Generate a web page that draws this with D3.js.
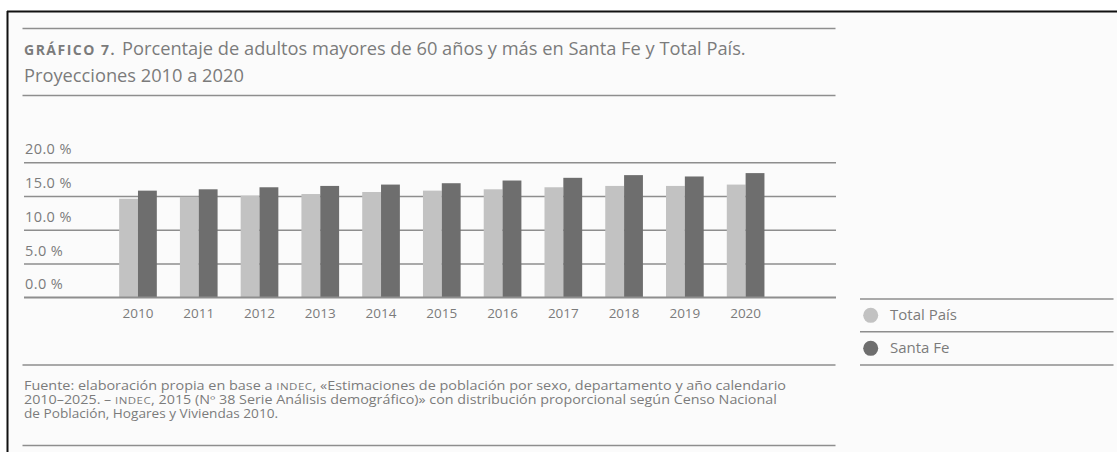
<!DOCTYPE html>
<html><head><meta charset="utf-8">
<script src="https://cdn.jsdelivr.net/npm/d3@7"></script>
<style>html,body{margin:0;padding:0;background:#fff;} svg{display:block;}</style>
</head><body><svg id="c" width="1117" height="452"></svg>
<script>
// ---- data ----
const years = ["2010","2011","2012","2013","2014","2015","2016","2017","2018","2019","2020"];
const totalPais = [14.6, 14.9, 15.05, 15.3, 15.6, 15.8, 16.0, 16.3, 16.5, 16.5, 16.7];
const santaFe   = [15.8, 16.0, 16.3, 16.5, 16.7, 16.9, 17.3, 17.7, 18.1, 17.9, 18.4];
const seriesNames = ["Total País", "Santa Fe"];
const yTicks = [0, 5, 10, 15, 20];
const titleBold = "GRÁFICO 7.";
const titleLine1 = "Porcentaje de adultos mayores de 60 años y más en Santa Fe y Total País.";
const titleLine2 = "Proyecciones 2010 a 2020";
const footLines = [
  [["Fuente: elaboración propia en base a ", false], ["indec", true], [", «Estimaciones de población por sexo, departamento y año calendario", false]],
  [["2010–2025. – ", false], ["indec", true], [", 2015 (Nº 38 Serie Análisis demográfico)» con distribución proporcional según Censo Nacional", false]],
  [["de Población, Hogares y Viviendas 2010.", false]]
];

// ---- styles ----
const FONT = "'Open Sans', 'Noto Sans', sans-serif";
const TXT = "#7b7b7b";
const RULE = "#8e8e8e";
const colors = ["#c2c2c2", "#6e6e6e"];

const svg = d3.select("#c");

// frame background + border (screenshot edge)
svg.append("rect").attr("x",0).attr("y",0).attr("width",1117).attr("height",452).attr("fill","#fff");
svg.append("rect").attr("x",8).attr("y",12).attr("width",1109).attr("height",440).attr("fill","#fbfbfb");
svg.append("line").attr("x1",7).attr("x2",1117).attr("y1",11.5).attr("y2",11.5).attr("stroke","#111").attr("stroke-width",2);
svg.append("line").attr("x1",7.5).attr("x2",7.5).attr("y1",11).attr("y2",452).attr("stroke","#111").attr("stroke-width",2);

function rule(x1, x2, y) {
  svg.append("line").attr("x1",x1).attr("x2",x2).attr("y1",y).attr("y2",y)
    .attr("stroke",RULE).attr("stroke-width",1.5);
}
function fit(sel, target) {
  const w = sel.node().getComputedTextLength();
  const fs = parseFloat(sel.attr("font-size"));
  sel.attr("font-size", fs * target / w);
}
function spread(sel, target) {
  const w = sel.node().getComputedTextLength();
  const n = sel.text().length;
  sel.attr("letter-spacing", Math.max(0, (target - w) / n));
}
// horizontally condense/expand a text to a target width (keeps its height)
function squeeze(sel, x, yb, target) {
  const w = sel.node().getComputedTextLength();
  sel.attr("x", 0).attr("y", 0)
     .attr("transform", `translate(${x},${yb}) scale(${target / w},1)`);
}

// ---- title ----
rule(22.5, 835.5, 28.5);
rule(22.5, 835.5, 95.5);
const tb = svg.append("text").attr("x",24).attr("y",55).attr("font-family",FONT)
  .attr("font-weight","bold").attr("font-size",14).attr("fill",TXT).text(titleBold);
spread(tb, 92);
const t1 = svg.append("text").attr("x",122).attr("y",55).attr("font-family",FONT)
  .attr("font-size",16).attr("fill",TXT).text(titleLine1);
fit(t1, 624);
svg.append("text").attr("x",24).attr("y",81.5).attr("font-family",FONT)
  .attr("font-size",t1.attr("font-size")).attr("fill",TXT).text(titleLine2);

// ---- scales ----
const y = d3.scaleLinear().domain([0, 20]).range([297.3, 162.3]);
const x0 = d3.scaleBand().domain(years).range([107.6, 776]).paddingInner(0.38).paddingOuter(0.19);
const x1 = d3.scaleBand().domain(seriesNames).range([0, x0.bandwidth()]);

// gridlines + y labels
const yAxis = d3.axisLeft(y).tickValues(yTicks).tickSize(0).tickFormat(d => d3.format(".1f")(d) + " %");
const gy = svg.append("g").attr("transform","translate(24,0)").call(yAxis);
gy.select(".domain").remove();
gy.selectAll(".tick line").attr("x1",0).attr("x2",812).attr("stroke",RULE).attr("stroke-width",1.5);
gy.selectAll(".tick text").attr("x",1).attr("dy",0).attr("y",-8.5).attr("text-anchor","start")
  .attr("font-family",FONT).attr("font-size",14.5).attr("letter-spacing",0.4).attr("fill",TXT);

// bars
const groups = svg.append("g").selectAll("g").data(years).join("g")
  .attr("transform", d => `translate(${x0(d)},0)`);
groups.selectAll("rect").data((d,i) => [
    {s: seriesNames[0], v: totalPais[i]},
    {s: seriesNames[1], v: santaFe[i]}])
  .join("rect")
  .attr("x", d => x1(d.s)).attr("width", x1.bandwidth())
  .attr("y", d => y(d.v)).attr("height", d => y(0) - y(d.v))
  .attr("fill", (d,i) => colors[i]);

// redraw baseline on top
rule(24, 836, y(0));

// x axis labels
const xAxis = d3.axisBottom(x0).tickSize(0);
const gx = svg.append("g").attr("transform",`translate(0,${y(0)})`).call(xAxis);
gx.select(".domain").remove();
gx.selectAll(".tick text").attr("y",21).attr("dy",0).attr("font-family",FONT)
  .attr("font-size",13.5).attr("fill",TXT);

// ---- legend ----
const legY = [299, 331.7, 365];
legY.forEach(v => rule(860, 1113.5, v));
seriesNames.forEach((n, i) => {
  const cy = (legY[i] + legY[i+1]) / 2;
  svg.append("circle").attr("cx",870.7).attr("cy",cy).attr("r",7.5).attr("fill",colors[i]);
  svg.append("text").attr("x",890).attr("y",cy + 5).attr("font-family",FONT)
    .attr("font-size",15).attr("fill",TXT).text(n);
});

// ---- footnote ----
rule(22.5, 835.5, 365);
rule(22.5, 835.5, 445.5);
const footBase = [390, 404, 418];
const footWidth = [762.7, 753.3, 254.3];
footLines.forEach((segs, li) => {
  const t = svg.append("text").attr("font-family",FONT)
    .attr("font-size",12).attr("fill",TXT);
  segs.forEach(([s, sc]) => {
    t.append("tspan").attr("font-size", sc ? "0.8em" : null)
      .attr("letter-spacing", sc ? 0.4 : null).text(sc ? s.toUpperCase() : s);
  });
  squeeze(t, 24, footBase[li], footWidth[li]);
});
</script></body></html>
